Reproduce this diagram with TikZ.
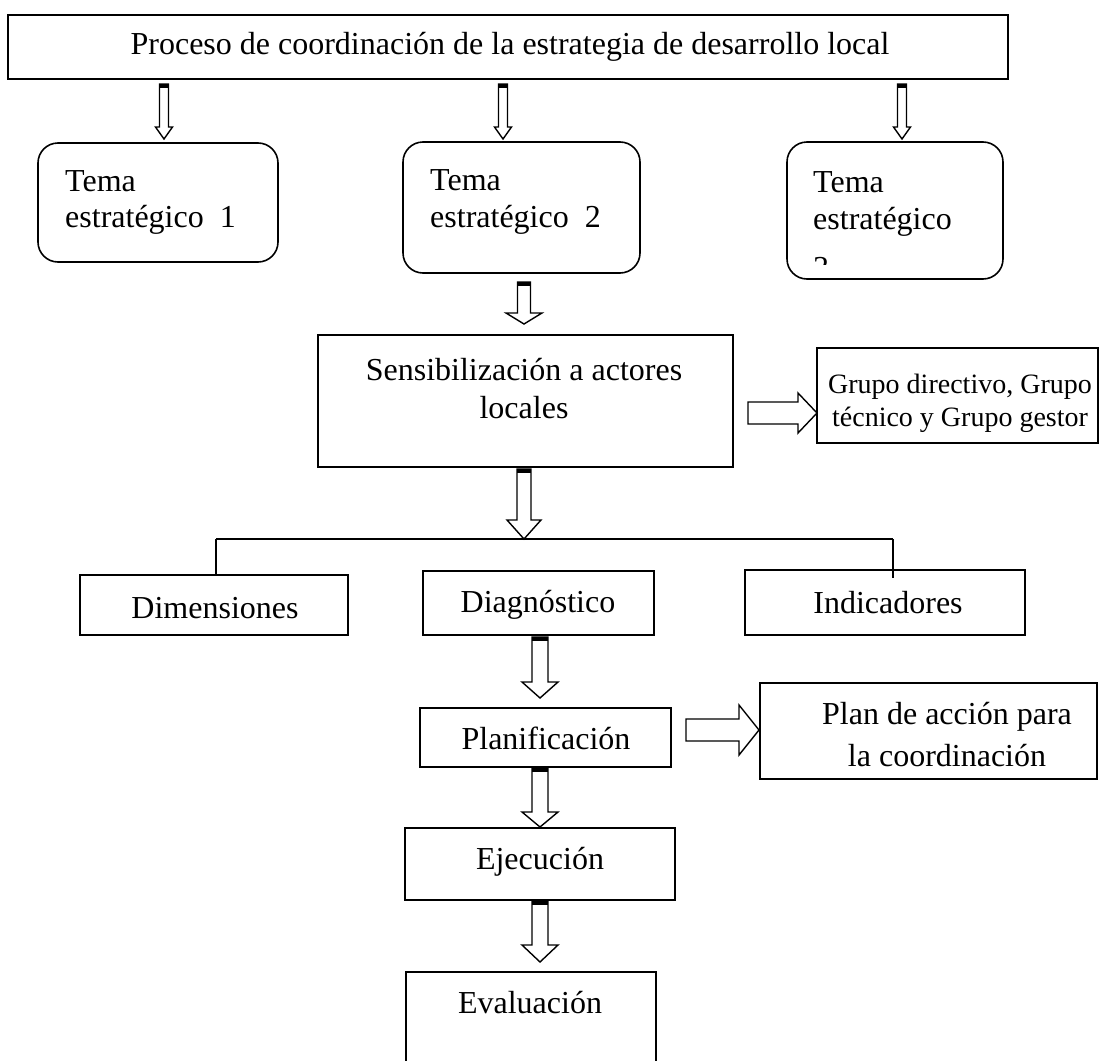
\documentclass[tikz,border=0pt]{standalone}
\usepackage{fontspec}
\setmainfont{Liberation Serif}
\usetikzlibrary{calc}
\tikzset{
  box/.style={draw, line width=1.6pt, inner sep=0pt, outer sep=0pt},
  rbox/.style={box, rounded corners=20pt},
  txt/.style={inner sep=0pt, anchor=base, font=\fontsize{32}{36}\selectfont},
  stxt/.style={inner sep=0pt, anchor=base, font=\fontsize{28}{32}\selectfont},
  barrow/.style={draw, fill=white, line width=1.4pt, line join=miter},
  conn/.style={line width=1.8pt},
  thinconn/.style={line width=1.3pt}
}
\newcommand\bx[6][]{\node[box,#1,minimum width={(#4-#2)*1pt},minimum height={(#5-#3)*1pt}] (#6) at ({(#2+#4)/2},{(#3+#5)/2}) {};}
% vertical block arrow: start, tip, half shaft, half head, head length
\newcommand\darrow[5]{%
  \draw[barrow] let \p1=(#1), \p2=(#2) in
    (\x1-#3pt,\y1) -- (\x1+#3pt,\y1) -- (\x1+#3pt,\y2+#5pt) -- (\x1+#4pt,\y2+#5pt)
    -- (\x1,\y2) -- (\x1-#4pt,\y2+#5pt) -- (\x1-#3pt,\y2+#5pt) -- cycle;
  \fill let \p1=(#1) in (\x1-#3pt,\y1) rectangle (\x1+#3pt,\y1-4pt);}
% horizontal block arrow
\newcommand\rarrow[5]{%
  \draw[barrow] let \p1=(#1), \p2=(#2) in
    (\x1,\y1+#3pt) -- (\x2-#5pt,\y1+#3pt) -- (\x2-#5pt,\y1+#4pt) -- (\x2,\y1)
    -- (\x2-#5pt,\y1-#4pt) -- (\x2-#5pt,\y1-#3pt) -- (\x1,\y1-#3pt) -- cycle;}
\begin{document}
\begin{tikzpicture}[x=1pt,y=-1pt]
\fill[white] (0,0) rectangle (1100,1060);
\useasboundingbox (0,0) rectangle (1100,1060);
\begin{scope}
\clip (0,0) rectangle (1100,1060);

% boxes
\bx{8}{15}{1008}{79}{top}
\bx[rbox]{38}{143}{278}{262}{t1}
\bx[rbox]{403}{142}{640}{273}{t2}
\bx[rbox]{787}{142}{1003}{279}{t3}
\bx{318}{335}{733}{467}{sens}
\bx{817}{348}{1098}{443}{grupo}
\bx{80}{575}{348}{635}{dim}
\bx{423}{571}{654}{635}{diag}
\bx{745}{570}{1025}{635}{ind}
\bx{420}{708}{671}{767}{plan}
\bx{760}{683}{1097}{779}{plande}
\bx{405}{828}{675}{900}{ejec}
\bx{406}{972}{656}{1080}{eval}

% texts
\node[txt] (ltop) at (510,54) {Proceso de coordinación de la estrategia de desarrollo local};
\node[txt,anchor=base west] (l1a) at (65,191) {Tema};
\node[txt,anchor=base west] (l1b) at (65,227) {estratégico~~1};
\node[txt,anchor=base west] (l2a) at (430,190) {Tema};
\node[txt,anchor=base west] (l2b) at (430,227) {estratégico~~2};
\node[txt,anchor=base west] (l3a) at (813,192) {Tema};
\node[txt,anchor=base west] (l3b) at (813,229) {estratégico};
\begin{scope}
\clip (800,240) rectangle (1000,264);
\node[txt,anchor=base west] (l3c) at (813,278) {3};
\end{scope}
\node[txt] (ls1) at (524,380) {Sensibilización a actores};
\node[txt] (ls2) at (524,418) {locales};
\node[stxt] (lg1) at (960,393) {Grupo directivo, Grupo};
\node[stxt] (lg2) at (960,426) {técnico y Grupo gestor};
\node[txt] (ldim) at (215,618) {Dimensiones};
\node[txt] (ldiag) at (538,612) {Diagnóstico};
\node[txt] (lind) at (888,613) {Indicadores};
\node[txt] (lplan) at (546,749) {Planificación};
\node[txt] (lpd1) at (947,724) {Plan de acción para};
\node[txt] (lpd2) at (947,766) {la coordinación};
\node[txt] (lejec) at (540,869) {Ejecución};
\node[txt] (leval) at (530,1013) {Evaluación};

% branch lines
\coordinate (jl) at (216,539);
\coordinate (jr) at (893,539);
\draw[conn] (jl) -- (jr);
\draw[thinconn] (jl) -- (jl |- dim.north);
\draw[thinconn] (jr) -- ++(0,39);

% arrow end points
\coordinate (a1s) at (164,84);  \coordinate (a1e) at (164,139);
\coordinate (a2s) at (503,84);  \coordinate (a2e) at (503,139);
\coordinate (a3s) at (902,84);  \coordinate (a3e) at (902,139);
\coordinate (a4s) at (524,282); \coordinate (a4e) at (524,324);
\coordinate (a5s) at (524,469); \coordinate (a5e) at (524,539);
\coordinate (a6s) at (540,637); \coordinate (a6e) at (540,698);
\coordinate (a7s) at (540,768); \coordinate (a7e) at (540,827);
\coordinate (a8s) at (540,901); \coordinate (a8e) at (540,962);
\coordinate (h1s) at (748,413); \coordinate (h1e) at (817,413);
\coordinate (h2s) at (686,730); \coordinate (h2e) at (759,730);

\darrow{a1s}{a1e}{4.5}{8.5}{12}
\darrow{a2s}{a2e}{4.5}{8.5}{12}
\darrow{a3s}{a3e}{4.5}{8.5}{12}
\darrow{a4s}{a4e}{6.5}{18}{11}
\darrow{a5s}{a5e}{7}{17}{19}
\darrow{a6s}{a6e}{8}{18}{16}
\darrow{a7s}{a7e}{8}{18}{15}
\darrow{a8s}{a8e}{8}{18}{17}
\rarrow{h1s}{h1e}{11}{20}{19}
\rarrow{h2s}{h2e}{11}{25}{20}
\end{scope}
\end{tikzpicture}
\end{document}
